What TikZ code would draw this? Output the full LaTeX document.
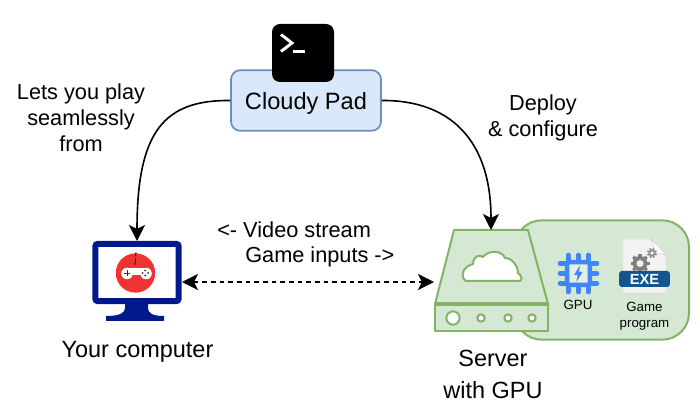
\documentclass[tikz,border=0pt]{standalone}
\usepackage{fontspec}
\setmainfont{Liberation Sans}
\usetikzlibrary{arrows.meta,shapes.geometric}
\definecolor{padfill}{HTML}{DAE8FC}
\definecolor{padline}{HTML}{6C8EBF}
\definecolor{srvfill}{HTML}{D5E8D4}
\definecolor{srvline}{HTML}{82B366}
\definecolor{navy}{HTML}{001A8C}
\definecolor{redpad}{HTML}{F03232}
\definecolor{chip}{HTML}{4285F4}
\definecolor{exeblue}{HTML}{15558F}
\tikzset{
  tip/.tip={Stealth[length=12pt,width=12pt,inset=3pt]},
  link/.style={draw=black,line width=1.2pt,-tip},
  toplabel/.style={align=center,font=\fontsize{16.3}{19.5}\selectfont,inner sep=0pt},
  lowlabel/.style={align=center,font=\fontsize{17.6}{24}\selectfont,inner sep=0pt},
  padlabel/.style={font=\fontsize{17.7}{20}\selectfont},
  smalllabel/.style={align=center,font=\fontsize{10}{13}\selectfont,inner sep=0pt},
  srvshape/.style={draw=srvline,fill=srvfill,line width=1.5pt,line join=round},
}
\begin{document}
\begin{tikzpicture}[x=0.75pt,y=-0.75pt]
\useasboundingbox (0,0) rectangle (700,420);
% green back panel
\node[srvshape,rounded corners=20pt,minimum width=130.5pt,minimum height=89.5pt,inner sep=0pt] (panel) at (602,280) {};
% server
\draw[srvshape] (454,230) -- (528,230) -- (548,304) -- (435,304) -- cycle;
\node[srvshape,minimum width=84.5pt,minimum height=20pt,inner sep=0pt] (srvbase) at (491.5,317.5) {};
\draw[srvline,line width=2.6pt] (435,304) -- (548,304);
\coordinate (srvtop) at (491,230);
\coordinate (srvleft) at (434,282);
\draw[draw=srvline,fill=white,line width=1.5pt,line join=round]
  (466,281) .. controls (460,277) and (462,267) .. (473,264)
  .. controls (473,256) and (480,254) .. (483,257)
  .. controls (488,250) and (502,250) .. (505,258)
  .. controls (512,258) and (518,266) .. (518,273)
  .. controls (521,275) and (523,279) .. (520,281) -- cycle;
\node[circle,draw=srvline,fill=white,line width=1.5pt,minimum size=10pt,inner sep=0pt] (led1) at (453,318) {};
\foreach \x/\n in {481/2,508/3,532/4}
  \node[circle,draw=srvline,fill=white,line width=1.5pt,minimum size=5.5pt,inner sep=0pt] (led\n) at (\x,318) {};
% gpu chip
\foreach \o in {-10,0,10}{
  \draw[chip,line width=3.4pt,line cap=round] (578.5+\o,255) -- (578.5+\o,262);
  \draw[chip,line width=3.4pt,line cap=round] (578.5+\o,285) -- (578.5+\o,292);
  \draw[chip,line width=3.4pt,line cap=round] (560,273.5+\o) -- (567,273.5+\o);
  \draw[chip,line width=3.4pt,line cap=round] (590,273.5+\o) -- (597,273.5+\o);
}
\node[draw=chip,fill=srvfill!70!white,line width=3.4pt,rounded corners=1.5pt,minimum width=17pt,minimum height=17pt,inner sep=0pt] (gpu) at (578.5,273.5) {};
\fill[chip] (580,265.5) -- (574,275) -- (577.5,275) -- (576.5,282) -- (582.5,272) -- (579,272) -- cycle;
\node[smalllabel] (gpulabel) at (578,305) {GPU};
% exe file
\fill[black!15] (624,293) rectangle (666,295);
\draw[fill=black!5,draw=black!10,line width=.4pt] (623,239) -- (651,239) .. controls (655,243) and (662,250) .. (666,255) -- (666,293) -- (623,293) -- cycle;
\fill[white,draw=black!20,line width=.4pt] (651,239) .. controls (655,243) and (662,250) .. (666,255) .. controls (660,253) and (654,254) .. (654,252) .. controls (654,248) and (653,243) .. (651,239) -- cycle;
\foreach \a in {0,45,...,315}{
  \draw[black!50,line width=2.4pt] (640,263.5) -- ++(\a:9.5);
  \draw[black!45,line width=1.3pt] (652,253) -- ++(\a+20:5);
}
\fill[black!50] (640,263.5) circle[radius=7.5];
\fill[black!5] (640,263.5) circle[radius=3.5];
\fill[black!45] (652,253) circle[radius=3.5];
\fill[white] (652,253) circle[radius=1.8];
\node[fill=exeblue,rounded corners=2pt,minimum width=38pt,minimum height=12pt,inner sep=0pt,text=white,font=\bfseries\fontsize{11}{11}\selectfont] (exe) at (644.5,279) {EXE};
\node[smalllabel,font=\fontsize{10}{12.2}\selectfont] (gamelabel) at (644.5,316) {Game\\program};
% monitor
\fill[navy] (125,300) -- (148,300) -- (148,308) .. controls (148,313) and (152,316) .. (164,316) -- (164,321) -- (106,321) -- (106,316) .. controls (120,316) and (125,313) .. (125,308) -- cycle;
\node[draw=navy,fill=white,line width=4.6pt,rounded corners=2pt,minimum width=62.5pt,minimum height=43pt,inner sep=0pt] (monitor) at (137,272.5) {};
\coordinate (montop) at (137,241);
\coordinate (monright) at (182,282);
\node[circle,fill=redpad,minimum size=29.5pt,inner sep=0pt] (joy) at (135.5,273) {};
\draw[black,line width=.6pt,dash pattern=on 5pt off 1.5pt] (135,265) -- (136,252);
\fill[white] (127,273.5) circle[radius=5.8];
\fill[white] (146,273.5) circle[radius=5.8];
\fill[white] (127,267.7) rectangle (146,275.5);
\draw[black!80,line width=.6pt] (124,273) -- (130,273) (127,270) -- (127,276);
\foreach \a/\b in {145/270.5,148/273,145/275.5,142.5/273} \fill[black!80] (\a,\b) circle[radius=1];
% cloudy pad
\node[draw=padline,fill=padfill,line width=1.3pt,rounded corners=7pt,minimum width=112.5pt,minimum height=45.5pt,inner sep=0pt] (pad) at (306,100.5) {};
\node[padlabel,inner sep=0pt] (padlabel) at (306,103) {Cloudy Pad};
\node[fill=black,rounded corners=6pt,minimum width=46.5pt,minimum height=43.5pt,inner sep=0pt] (term) at (303,53) {};
\draw[white,line width=2.2pt] (281,34.5) -- (292,43) -- (281,51.5);
\draw[white,line width=1.9pt] (293,51.5) -- (305,51.5);
% connectors
\draw[link] (pad.west) .. controls (165,100) and (137,130) .. (montop);
\draw[link] (pad.east) .. controls (450,100) and (491,140) .. (srvtop);
\draw[link,dash pattern=on 3.5pt off 3pt,tip-tip] (monright) -- (srvleft);
% labels
\node[toplabel] (lblplay) at (81,118) {Lets you play\\seamlessly\\from};
\node[toplabel] (lbldeploy) at (543,118) {Deploy\\\& configure};
\node[toplabel,anchor=west] (lblvideo) at (217,230) {<- Video stream};
\node[toplabel,anchor=west] (lblinputs) at (245,257) {Game inputs ->};
\node[lowlabel] (lblcomp) at (137.5,352) {Your computer};
\node[lowlabel] (lblsrv) at (493,374) {Server\\with GPU};
\end{tikzpicture}
\end{document}
